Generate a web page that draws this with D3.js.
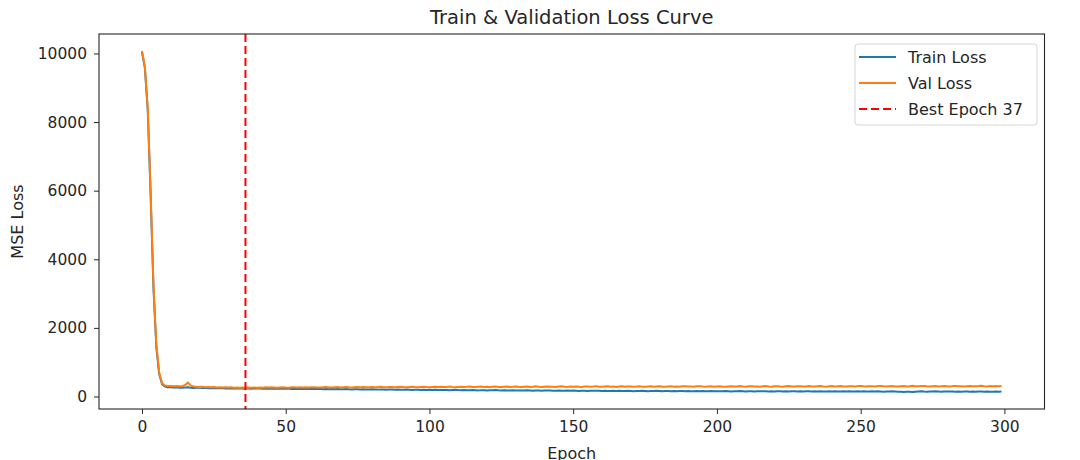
<!DOCTYPE html>
<html>
<head>
<meta charset="utf-8">
<script src="https://cdn.jsdelivr.net/npm/d3@7"></script>
<style>
  body { margin: 0; background: #fff; }
  text { font-family: "DejaVu Sans", sans-serif; fill: #262626; }
</style>
</head>
<body>
<div id="chart"></div>
<script>
// loss per epoch
const trainLoss = [
  10040, 9580, 8350, 5900, 3150, 1420, 650, 360, 290, 272,
  268, 262, 270, 258, 255, 263, 266, 252, 249, 256,
  251, 246, 254, 243, 248, 241, 250, 238, 244, 236,
  242, 235, 240, 231, 238, 229, 234, 232, 226, 235,
  231, 236, 227, 233, 229, 224, 231, 226, 222, 229,
  224, 230, 219, 226, 221, 227, 217, 223, 219, 215,
  222, 216, 221, 212, 218, 214, 220, 210, 216, 208,
  214, 219, 210, 206, 213, 208, 204, 211, 207, 202,
  209, 205, 200, 207, 203, 198, 205, 201, 196, 203,
  199, 194, 201, 197, 192, 198, 194, 189, 196, 192,
  194, 190, 196, 188, 192, 186, 191, 185, 189, 194,
  187, 183, 189, 185, 180, 187, 182, 178, 185, 181,
  177, 184, 180, 186, 179, 175, 182, 178, 173, 180,
  176, 171, 178, 174, 181, 175, 170, 177, 173, 168,
  175, 171, 177, 170, 166, 173, 169, 164, 171, 167,
  173, 168, 163, 170, 166, 161, 168, 164, 170, 165,
  161, 167, 163, 158, 165, 161, 167, 162, 158, 164,
  160, 156, 163, 159, 165, 160, 155, 162, 158, 164,
  159, 155, 162, 158, 153, 160, 156, 162, 157, 152,
  159, 155, 151, 158, 154, 160, 155, 150, 157, 153,
  149, 156, 152, 158, 153, 148, 155, 151, 157, 152,
  148, 155, 151, 146, 153, 149, 155, 150, 146, 152,
  148, 154, 149, 145, 152, 148, 154, 149, 145, 151,
  147, 153, 149, 144, 151, 147, 153, 148, 144, 150,
  146, 152, 147, 143, 150, 146, 152, 147, 142, 149,
  145, 151, 146, 142, 149, 145, 151, 146, 141, 148,
  144, 150, 145, 140, 136, 132, 135, 139, 134, 141,
  146, 150, 144, 140, 147, 143, 149, 144, 139, 146,
  142, 148, 143, 139, 146, 141, 147, 142, 138, 145,
  141, 147, 142, 138, 145, 140, 137, 143, 139, 148
];

const valLoss = [
  10070, 9620, 8420, 6000, 3260, 1510, 700, 385, 318, 305,
  302, 298, 305, 296, 300, 335, 410, 318, 290, 282,
  278, 284, 272, 276, 268, 274, 265, 270, 262, 268,
  260, 266, 258, 263, 256, 261, 252, 259, 255, 262,
  258, 264, 257, 266, 260, 268, 262, 257, 265, 270,
  263, 258, 267, 272, 261, 268, 264, 270, 259, 266,
  271, 265, 262, 269, 274, 266, 261, 268, 273, 265,
  270, 276, 267, 263, 271, 277, 268, 273, 266, 272,
  278, 269, 274, 281, 270, 266, 275, 279, 271, 276,
  282, 273, 268, 277, 284, 275, 271, 279, 285, 274,
  270, 278, 286, 276, 281, 273, 279, 288, 277, 272,
  280, 286, 275, 281, 290, 279, 274, 283, 288, 277,
  282, 276, 285, 291, 280, 275, 284, 289, 278, 283,
  292, 281, 276, 286, 290, 279, 284, 295, 283, 278,
  287, 292, 281, 286, 279, 290, 296, 284, 280, 289,
  285, 293, 282, 278, 288, 294, 283, 289, 302, 286,
  281, 290, 295, 284, 288, 279, 291, 297, 285, 289,
  294, 283, 288, 296, 285, 281, 292, 298, 286, 291,
  297, 286, 282, 293, 299, 287, 291, 284, 295, 300,
  288, 293, 285, 296, 302, 289, 284, 294, 299, 287,
  292, 298, 286, 282, 293, 300, 288, 294, 303, 290,
  286, 295, 301, 289, 293, 285, 297, 303, 291, 287,
  296, 302, 290, 286, 298, 304, 292, 288, 297, 301,
  289, 294, 305, 293, 288, 299, 304, 292, 287, 298,
  303, 291, 297, 306, 294, 289, 300, 296, 291, 302,
  307, 295, 290, 301, 297, 292, 303, 308, 296, 291,
  300, 305, 294, 289, 298, 303, 292, 296, 310, 301,
  295, 304, 309, 297, 292, 301, 306, 294, 299, 303,
  297, 292, 302, 307, 295, 300, 290, 298, 304, 296,
  301, 306, 313, 298, 294, 303, 297, 305, 300, 308
];

const bestEpoch = 37;   // 1-based, line drawn at index bestEpoch - 1
const xTicks = [0, 50, 100, 150, 200, 250, 300];
const yTicks = [0, 2000, 4000, 6000, 8000, 10000];
const legendLabels = ['Train Loss', 'Val Loss', 'Best Epoch ' + bestEpoch];

const width = 1080, height = 460;
const margin = { top: 34, right: 35.5, bottom: 51, left: 99 };
const innerW = width - margin.left - margin.right;
const innerH = height - margin.top - margin.bottom;

const svg = d3.select('#chart')
  .append('svg')
  .attr('width', width)
  .attr('height', height);

// matplotlib style 5% padding on both axes
const n = trainLoss.length;
const xPad = (n - 1) * 0.05;
const all = trainLoss.concat(valLoss);
const yMin = d3.min(all), yMax = d3.max(all);
const yPad = (yMax - yMin) * 0.05;

const x = d3.scaleLinear()
  .domain([-xPad, n - 1 + xPad])
  .range([margin.left, margin.left + innerW]);

const y = d3.scaleLinear()
  .domain([yMin - yPad, yMax + yPad])
  .range([margin.top + innerH, margin.top]);

const clip = svg.append('clipPath').attr('id', 'plot')
  .append('rect')
  .attr('x', margin.left).attr('y', margin.top)
  .attr('width', innerW).attr('height', innerH);

const line = d3.line()
  .x((d, i) => x(i))
  .y(d => y(d));

const plot = svg.append('g').attr('clip-path', 'url(#plot)');

plot.append('path')
  .datum(trainLoss)
  .attr('d', line)
  .attr('fill', 'none')
  .attr('stroke', '#1f77b4')
  .attr('stroke-width', 2)
  .attr('stroke-linejoin', 'round');

plot.append('path')
  .datum(valLoss)
  .attr('d', line)
  .attr('fill', 'none')
  .attr('stroke', '#ff7f0e')
  .attr('stroke-width', 2)
  .attr('stroke-linejoin', 'round');

plot.append('line')
  .attr('x1', x(bestEpoch - 1)).attr('x2', x(bestEpoch - 1))
  .attr('y1', margin.top).attr('y2', margin.top + innerH)
  .attr('stroke', '#ff0000')
  .attr('stroke-width', 2)
  .attr('stroke-dasharray', '8,4');

// axes
const xAxis = svg.append('g')
  .attr('transform', `translate(0,${margin.top + innerH})`)
  .call(d3.axisBottom(x).tickValues(xTicks).tickSize(5).tickPadding(7).tickSizeOuter(0));

const yAxis = svg.append('g')
  .attr('transform', `translate(${margin.left},0)`)
  .call(d3.axisLeft(y).tickValues(yTicks).tickSize(5).tickPadding(7).tickSizeOuter(0).tickFormat(d3.format('d')));

[xAxis, yAxis].forEach(a => {
  a.select('.domain').remove();
  a.selectAll('.tick line').attr('stroke', '#262626').attr('stroke-width', 1);
  a.selectAll('.tick text')
    .style('font-family', '"DejaVu Sans", sans-serif')
    .style('font-size', '15.5px')
    .attr('fill', '#262626');
});

svg.append('rect')
  .attr('x', margin.left).attr('y', margin.top)
  .attr('width', innerW).attr('height', innerH)
  .attr('fill', 'none')
  .attr('stroke', '#262626')
  .attr('stroke-width', 1.1);

// title and labels
svg.append('text')
  .attr('x', margin.left + innerW / 2)
  .attr('y', 24)
  .attr('text-anchor', 'middle')
  .style('font-size', '19.5px')
  .text('Train & Validation Loss Curve');

svg.append('text')
  .attr('x', margin.left + innerW / 2)
  .attr('y', 459)
  .attr('text-anchor', 'middle')
  .style('font-size', '16px')
  .text('Epoch');

svg.append('text')
  .attr('transform', `translate(23,${margin.top + innerH / 2}) rotate(-90)`)
  .attr('text-anchor', 'middle')
  .style('font-size', '16px')
  .text('MSE Loss');

// legend
const legend = svg.append('g').attr('transform', 'translate(855,44)');

legend.append('rect')
  .attr('width', 182).attr('height', 81)
  .attr('rx', 3)
  .attr('fill', 'rgba(255,255,255,0.8)')
  .attr('stroke', '#d6d6d6')
  .attr('stroke-width', 1);

const legendStyles = [
  { color: '#1f77b4', dash: null },
  { color: '#ff7f0e', dash: null },
  { color: '#ff0000', dash: '8,4' }
];

legend.selectAll('g.item')
  .data(legendLabels)
  .enter()
  .append('g')
  .attr('class', 'item')
  .attr('transform', (d, i) => `translate(0,${13 + i * 26})`)
  .each(function (d, i) {
    const g = d3.select(this);
    g.append('line')
      .attr('x1', 4).attr('x2', 41)
      .attr('stroke', legendStyles[i].color)
      .attr('stroke-width', 2)
      .attr('stroke-dasharray', legendStyles[i].dash);
    g.append('text')
      .attr('x', 53)
      .attr('dy', '0.36em')
      .style('font-size', '16px')
      .text(d);
  });
</script>
</body>
</html>
